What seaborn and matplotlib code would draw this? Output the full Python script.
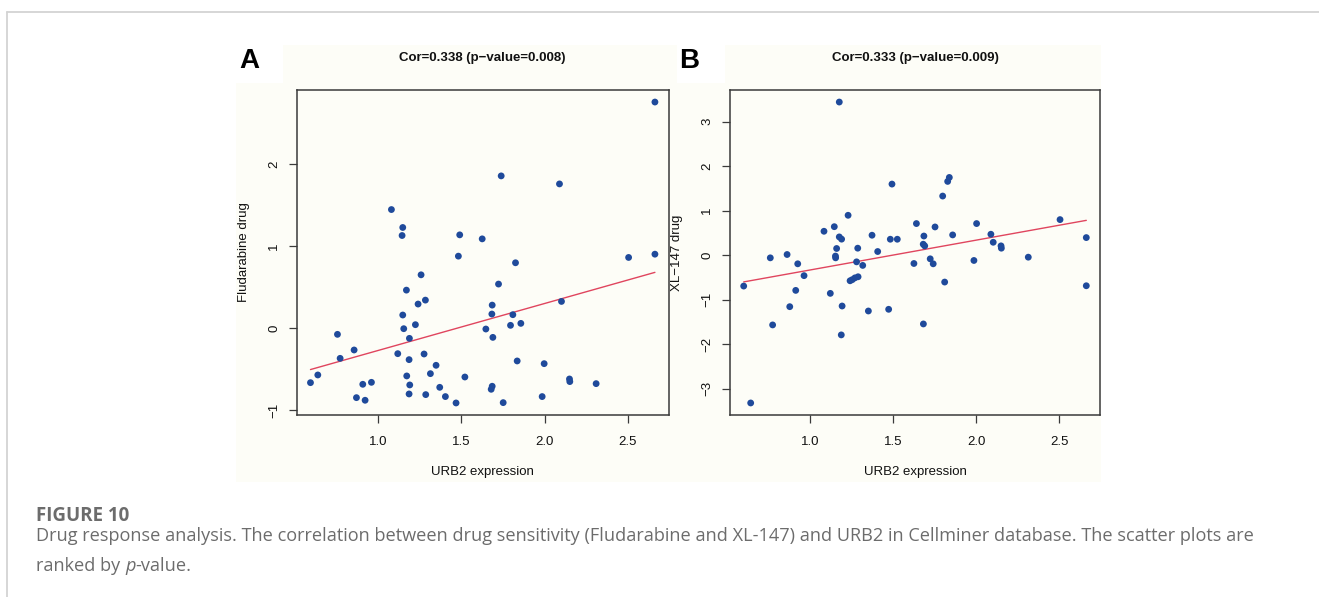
import numpy as np
import pandas as pd
import matplotlib
matplotlib.use("Agg")
import matplotlib.pyplot as plt
from matplotlib.lines import Line2D
from matplotlib.patches import Rectangle
import seaborn as sns

# ---- data: URB2 expression vs drug activity (CellMiner cell lines) ----
urb2_fluda = [2.662, 1.739, 2.089, 1.080, 1.148, 1.144, 1.490, 1.625,
              1.482, 2.504, 2.662, 1.825, 1.258, 1.723, 1.170, 1.284,
              1.240, 1.685, 2.101, 1.148, 1.683, 1.809, 1.224, 1.795,
              1.857, 1.154, 1.647, 1.188, 1.689, 0.756, 0.856, 0.772,
              1.118, 1.276, 1.186, 1.835, 1.997, 1.348, 0.638, 0.594,
              1.314, 1.172, 1.521, 2.149, 2.151, 0.908, 0.960, 1.190,
              1.370, 1.685, 1.679, 2.309, 0.870, 0.922, 1.186, 1.286,
              1.404, 1.468, 1.751, 1.985]
fludarabine = [2.760, 1.858, 1.760, 1.447, 1.228, 1.130, 1.138, 1.089,
               0.878, 0.862, 0.902, 0.797, 0.650, 0.537, 0.463, 0.341,
               0.293, 0.280, 0.325, 0.159, 0.171, 0.163, 0.041, 0.033,
               0.057, -0.008, -0.012, -0.126, -0.114, -0.077, -0.268, -0.370,
               -0.313, -0.317, -0.386, -0.402, -0.435, -0.455, -0.573, -0.667,
               -0.557, -0.585, -0.598, -0.622, -0.654, -0.687, -0.663, -0.695,
               -0.724, -0.711, -0.748, -0.679, -0.850, -0.882, -0.805, -0.813,
               -0.837, -0.915, -0.911, -0.837]

urb2_xl = [1.176, 1.493, 1.838, 1.828, 1.798, 1.229, 1.640, 2.002,
           1.752, 2.504, 1.146, 1.084, 1.373, 1.685, 1.858, 2.088,
           1.176, 1.190, 1.483, 1.525, 2.662, 1.681, 1.690, 2.102,
           2.149, 2.151, 2.662, 2.313, 1.986, 1.723, 1.741, 1.625,
           1.810, 1.682, 1.473, 1.351, 1.193, 1.188, 1.122, 1.407,
           1.317, 1.280, 1.287, 1.289, 1.270, 1.254, 1.241, 1.160,
           1.153, 1.154, 0.964, 0.926, 0.862, 0.761, 0.775, 0.914,
           0.878, 0.601, 0.643]
xl147 = [3.440, 1.597, 1.746, 1.657, 1.328, 0.896, 0.710, 0.710,
         0.634, 0.799, 0.640, 0.537, 0.448, 0.430, 0.455, 0.470,
         0.410, 0.360, 0.358, 0.358, 0.395, 0.246, 0.208, 0.290,
         0.209, 0.157, -0.687, -0.045, -0.119, -0.082, -0.194, -0.187,
         -0.604, -1.545, -1.216, -1.254, -1.142, -1.791, -0.858, 0.082,
         -0.230, -0.150, 0.157, -0.485, -0.510, -0.550, -0.575, 0.150,
         -0.020, -0.060, -0.460, -0.194, 0.015, -0.060, -1.567, -0.791,
         -1.157, -0.694, -3.320]

panel_letters = ["A", "B"]
titles = ["Cor=0.338 (p\u2212value=0.008)", "Cor=0.333 (p\u2212value=0.009)"]
x_label = "URB2 expression"
y_labels = ["Fludarabine drug", "XL\u2212147 drug"]
x_ticks = [1.0, 1.5, 2.0, 2.5]
y_ticks = [[-1, 0, 1, 2], [-3, -2, -1, 0, 1, 2, 3]]

caption_head = "FIGURE 10"
caption_line1 = ("Drug response analysis. The correlation between drug sensitivity "
                 "(Fludarabine and XL-147) and URB2 in Cellminer database. "
                 "The scatter plots are")
caption_line2 = ["ranked by ", "p", "-value."]

# ---- style ----
W, H = 1319, 597
DPI = 100
sns.set_style("ticks")
plt.rcParams["font.family"] = ["Liberation Sans", "DejaVu Sans"]
plt.rcParams["axes.unicode_minus"] = True

DOT = "#1f4a9b"
LINE = "#e0455e"
CREAM = "#fdfdf7"
FRAME = "#3a3a3a"
CAP = "#6c6c6c"

fig = plt.figure(figsize=(W / DPI, H / DPI), dpi=DPI, facecolor="white")


def px_rect(left, top, right, bottom):
    return [left / W, 1 - bottom / H, (right - left) / W, (bottom - top) / H]


def r_limits(v):
    lo, hi = min(v), max(v)
    d = 0.04 * (hi - lo)
    return lo - d, hi + d


# cream backdrop of the plot image, with white patches behind the panel letters
fig.patches.append(Rectangle((236 / W, 1 - 482 / H), (1101 - 236) / W, (482 - 45) / H,
                             transform=fig.transFigure, facecolor=CREAM,
                             edgecolor="none", zorder=-2))
for x0, x1 in [(236, 283), (677, 725)]:
    fig.patches.append(Rectangle((x0 / W, 1 - 83 / H), (x1 - x0) / W, (83 - 45) / H,
                                 transform=fig.transFigure, facecolor="white",
                                 edgecolor="none", zorder=-1))

# outer frame of the figure card
fig.add_artist(Line2D([6.5 / W, 6.5 / W], [0, 1 - 12 / H], transform=fig.transFigure,
                      color="#d3d3d3", lw=1.3))
fig.add_artist(Line2D([6.5 / W, 1], [1 - 12 / H, 1 - 12 / H], transform=fig.transFigure,
                      color="#d3d3d3", lw=1.3))

panels = [
    dict(x=urb2_fluda, y=fludarabine, rect=px_rect(296.7, 90, 668.7, 415),
         letter_x=249, ylab=y_labels[0], yt=y_ticks[0]),
    dict(x=urb2_xl, y=xl147, rect=px_rect(730, 90, 1100, 415),
         letter_x=689, ylab=y_labels[1], yt=y_ticks[1]),
]

for i, p in enumerate(panels):
    ax = fig.add_axes(p["rect"])
    ax.set_facecolor(CREAM)
    df = pd.DataFrame({x_label: p["x"], p["ylab"]: p["y"]})
    sns.regplot(data=df, x=x_label, y=p["ylab"], ax=ax, ci=None,
                scatter_kws=dict(s=24, color=DOT, edgecolors="none", alpha=1, zorder=3),
                line_kws=dict(color=LINE, lw=1.0, zorder=2))
    ax.set_xlim(*r_limits(p["x"]))
    ax.set_ylim(*r_limits(p["y"]))
    ax.set_xticks(x_ticks)
    ax.set_xticklabels([f"{t:.1f}" for t in x_ticks])
    ax.set_yticks(p["yt"])
    ax.set_yticklabels([str(t).replace("-", "\u2212") for t in p["yt"]],
                       rotation=90, va="center")
    for s in ax.spines.values():
        s.set_visible(True)
        s.set_color(FRAME)
        s.set_linewidth(1.1)
    ax.tick_params(length=6, width=0.9, color=FRAME, labelsize=9.5,
                   labelcolor="#111111")
    ax.tick_params(axis="x", pad=9)
    ax.tick_params(axis="y", pad=6)
    ax.set_xlabel(x_label, fontsize=9.5, labelpad=13, color="#111111")
    ax.set_ylabel(p["ylab"], fontsize=9.5, labelpad=13, color="#111111")

    cx = (p["rect"][0] + p["rect"][2] / 2)
    fig.text(cx, 1 - 58 / H, titles[i], ha="center", va="center",
             fontsize=9.5, fontweight="bold", color="#111111")
    fig.text(p["letter_x"] / W, 1 - 61 / H, panel_letters[i], ha="center",
             va="center", fontsize=20, fontweight="bold", color="black")

# ---- caption ----
cap_family = ["Open Sans", "DejaVu Sans"]
fig.text(36 / W, 1 - 516 / H, caption_head, ha="left", va="center",
         fontsize=13.5, fontweight="bold", color=CAP, family=cap_family)
line1 = fig.text(36 / W, 1 - 536 / H, caption_line1, ha="left", va="center",
                 fontsize=11.5, color=CAP, family=cap_family)

renderer = fig.canvas.get_renderer()
w1 = line1.get_window_extent(renderer).width
fs = 11.5 * (1254 - 36) / w1
line1.set_fontsize(fs)

x = 36
for k, piece in enumerate(caption_line2):
    t = fig.text(x / W, 1 - 566 / H, piece, ha="left", va="center",
                 fontsize=fs, color=CAP, family=cap_family,
                 style="italic" if k == 1 else "normal")
    x += t.get_window_extent(renderer).width

fig.savefig("out.png", dpi=DPI, facecolor="white")
